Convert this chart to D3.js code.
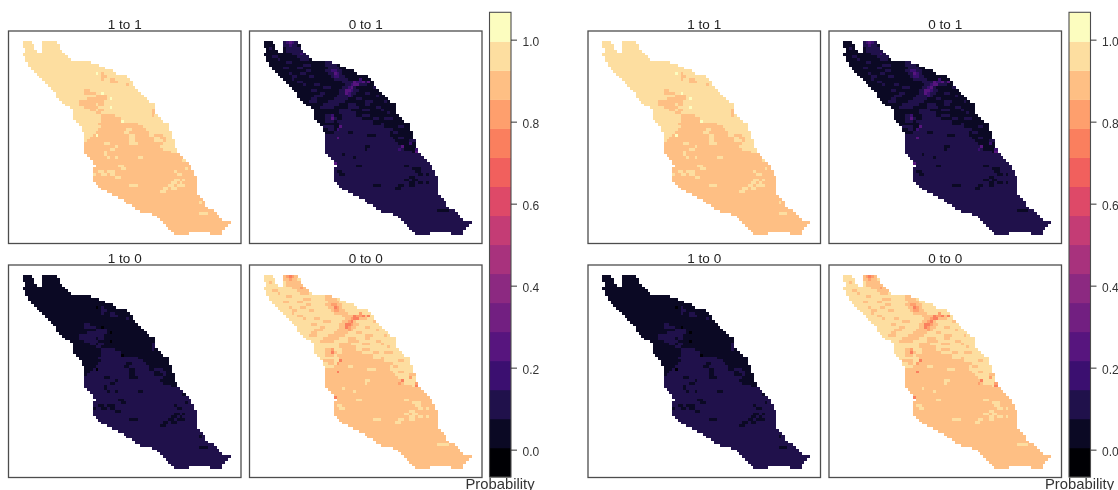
<!DOCTYPE html>
<html>
<head>
<meta charset="utf-8">
<script src="https://cdn.jsdelivr.net/npm/d3@7"></script>
<style>
  html, body { margin: 0; padding: 0; background: #fff; overflow: hidden; }
  svg { display: block; filter: blur(0.35px); font-family: "Liberation Sans", Arial, sans-serif; }
</style>
</head>
<body>
<svg width="1118" height="490"></svg>
<script>
var panelTitles = ['1 to 1', '0 to 1', '1 to 0', '0 to 0'];
var northValues = [0.96, 0.04, 0.04, 0.96];
var southValues = [0.90, 0.10, 0.10, 0.90];
var midValues = [1.0, 0.18, 0.0, 0.82];
var hotValues = [1.0, 0.25, 0.0, 0.74];
var colorTicks = [0, 0.2, 0.4, 0.6, 0.8, 1.0];

// outline of the raster, one entry per row (grid columns)
var rowLeft = [0,0,1,1,0,1,1,2,2,3,4,5,6,7,8,9,10,11,12,12,13,14,15,17,18,18,18,18,19,20,21,21,22,22,22,22,22,22,22,22,23,24,25,25,26,25,25,25,25,25,26,27,28,30,32,34,36,37,39,40,42,46,48,49,50,51,52,53,54];
var rowRight = [12,13,13,14,15,16,17,24,27,29,32,33,37,38,39,39,40,41,42,43,44,45,47,47,47,47,48,49,50,52,52,52,53,53,53,54,54,54,55,55,56,57,58,59,60,60,61,61,62,62,62,62,62,62,62,63,64,65,65,66,68,69,70,71,74,73,72,71,71];
var maskGaps = [[0,3,7],[1,4,7],[2,4,7],[3,5,7],[68,59,67]];

// rows below this one are all in the southern zone
var southFullRow = 40;
var southRuns = [[26,28,33],[27,28,35],[28,28,36],[29,27,39],[30,28,43],[31,27,44],[32,26,45],[33,25,45],[34,24,46],[35,23,47],[36,22,48],[37,22,49],[38,22,50],[39,22,53]];

// "1 to" panels
var darkRuns1 = [[7,24,25],[11,28,29],[12,28,30],[13,28,29],[13,31,33],[14,31,34],[15,37,38],[17,22,24],[18,22,26],[19,26,30],[20,23,30],[21,20,29],[22,20,26],[22,27,29],[23,22,27],[24,24,26],[24,27,29],[25,26,28],[24,46,47],[25,46,47],[26,46,47],[33,47,50],[34,46,47],[34,49,51],[35,46,47],[35,50,51],[36,47,50],[29,39,41]];
var lightRuns1 = [[31,37,39],[32,36,38],[33,38,40],[34,38,40],[35,38,40],[36,38,41],[37,33,34],[36,29,31],[38,31,33],[39,29,30],[40,29,30],[41,30,31],[41,33,34],[44,34,36],[46,27,29],[46,30,33],[47,28,30],[47,31,33],[48,33,35],[47,25,26],[50,53,55],[50,56,57],[49,54,56],[49,57,58],[47,55,57],[46,54,55],[51,52,54],[51,55,58],[52,50,52],[52,53,55],[53,49,51],[51,38,41],[57,63,64],[61,63,66],[45,35,37],[41,41,43],[42,57,58],[45,58,59]];
var topRuns1 = [[11,26,27],[18,28,29],[20,31,32],[23,31,32],[28,35,36],[33,26,27]];

// "0 to" panels
var darkRuns0 = [[0,7,12],[1,7,12],[2,8,13],[3,8,14],[4,10,15],[5,12,16],[6,13,16],[7,22,25],[8,22,26],[9,23,27],[10,22,28],[11,23,28],[12,24,29],[13,25,30],[14,28,38],[15,29,37],[16,28,33],[17,27,34],[18,27,33],[19,26,32],[20,25,30],[21,23,29],[22,21,27],[23,20,25],[9,12,14],[10,15,17],[12,16,18],[15,18,20],[17,17,19],[18,20,22],[20,17,19],[13,10,11],[6,5,6],[11,9,10],[20,33,35],[22,36,38],[24,42,43],[19,40,41],[21,43,44],[25,44,45],[28,26,28],[30,23,25],[32,25,27],[27,39,41],[29,42,43],[31,38,39],[33,43,44],[34,48,50],[35,52,54],[30,48,50],[26,30,33],[24,27,31],[25,27,33],[26,22,25],[27,22,26],[28,22,25],[30,21,23],[31,23,25],[33,22,25],[34,22,24],[35,22,23],[2,2,3],[5,3,5],[7,8,10],[8,14,17],[9,7,9],[11,13,15],[12,10,12],[14,12,14],[15,14,15],[16,21,24],[19,18,21],[21,16,19],[23,30,34],[24,35,38],[22,30,33],[21,36,39],[23,40,42],[26,35,38],[27,43,46],[28,36,39],[30,40,43],[31,44,46],[29,34,36],[32,46,48],[18,36,38],[16,39,40]];
var lightRuns0 = [[47,27,29],[46,26,28],[44,33,35],[41,32,33],[40,28,29],[51,39,42],[48,52,54],[47,55,57],[47,58,59],[46,54,56],[49,50,52],[49,53,55],[50,52,54],[50,55,57],[50,58,59],[51,48,50],[51,52,54],[52,47,49],[44,50,52],[60,62,66],[45,53,56],[38,36,37],[37,36,38],[33,37,40],[32,30,32]];
var midRuns0 = [[10,24,26],[11,25,27],[12,25,27],[14,33,36],[15,31,33],[16,30,32],[17,30,32],[0,8,11],[1,9,10],[18,29,31],[19,30,31],[4,13,14],[26,24,25],[31,26,27],[38,48,49],[36,52,53],[37,54,55],[38,54,55],[13,34,35]];
var hotRuns0 = [[14,32,33],[14,35,36],[15,32,34],[16,31,32],[17,29,31],[18,29,30],[0,9,10],[11,25,26],[14,37,38],[27,24,25],[30,27,28],[34,26,27],[37,49,50],[43,25,26],[39,54,55]];

var svg = d3.select('svg');

// layout of the two figures
var figureLeft = [0, 579.5];
var panelX = [8.5, 249.5, 8.5, 249.5];
var panelY = [31, 31, 265, 265];
var panelW = 232.5;
var panelH = 212.5;

var colorBreaks = d3.range(17).map(function(i) { return -0.0667 + i * 0.0708; });
var colors = d3.quantize(d3.interpolateMagma, 16);
var colorScale = d3.scaleThreshold().domain(colorBreaks.slice(1, 16)).range(colors);
var keyY = d3.scaleLinear().domain([-0.0667, 1.0667]).range([477, 12.3]);

var colScale = d3.scaleLinear().domain([-5.07, 77.96]).range([0, panelW]);
var rowScale = d3.scaleLinear().domain([-3.7, 72.2]).range([0, panelH]);
var cellW = colScale(1) - colScale(0);
var cellH = rowScale(1) - rowScale(0);

function paint(grid, runs, value) {
  runs.forEach(function(r) {
    for (var c = r[1]; c < r[2]; c++) {
      var k = r[0] + '_' + c;
      if (k in grid) grid[k] = value;
    }
  });
}

function buildCells(i) {
  var grid = {};
  var r, c;
  for (r = 0; r < rowLeft.length; r++) {
    for (c = rowLeft[r]; c < rowRight[r]; c++) {
      grid[r + '_' + c] = r >= southFullRow ? southValues[i] : northValues[i];
    }
  }
  maskGaps.forEach(function(g) {
    for (c = g[1]; c < g[2]; c++) delete grid[g[0] + '_' + c];
  });
  paint(grid, southRuns, southValues[i]);
  if (i == 0 || i == 2) {
    paint(grid, darkRuns1, southValues[i]);
    paint(grid, lightRuns1, northValues[i]);
    paint(grid, topRuns1, midValues[i]);
  } else {
    paint(grid, darkRuns0, southValues[i]);
    paint(grid, lightRuns0, northValues[i]);
    paint(grid, midRuns0, midValues[i]);
    paint(grid, hotRuns0, hotValues[i]);
  }
  return Object.keys(grid).map(function(k) {
    var p = k.split('_');
    return { row: +p[0], col: +p[1], value: grid[k] };
  });
}

figureLeft.forEach(function(fx) {
  var fig = svg.append('g').attr('transform', 'translate(' + fx + ',0)');

  panelTitles.forEach(function(title, i) {
    var g = fig.append('g').attr('transform', 'translate(' + panelX[i] + ',' + panelY[i] + ')');

    g.append('g')
      .attr('shape-rendering', 'crispEdges')
      .selectAll('rect')
      .data(buildCells(i))
      .join('rect')
      .attr('x', function(d) { return colScale(d.col); })
      .attr('y', function(d) { return rowScale(d.row); })
      .attr('width', cellW + 0.6)
      .attr('height', cellH + 0.6)
      .attr('fill', function(d) { return colorScale(d.value); });

    g.append('rect')
      .attr('width', panelW)
      .attr('height', panelH)
      .attr('fill', 'none')
      .attr('stroke', '#4d4d4d')
      .attr('stroke-width', 1.3);

    g.append('text')
      .attr('x', panelW / 2)
      .attr('y', -2.5)
      .attr('text-anchor', 'middle')
      .attr('font-size', 13.5)
      .attr('fill', '#222')
      .text(title);
  });

  // colorkey
  var key = fig.append('g').attr('transform', 'translate(489.5,0)');
  key.selectAll('rect')
    .data(colors)
    .join('rect')
    .attr('x', 0)
    .attr('width', 21.5)
    .attr('y', function(d, i) { return keyY(colorBreaks[i + 1]); })
    .attr('height', function(d, i) { return keyY(colorBreaks[i]) - keyY(colorBreaks[i + 1]) + 0.3; })
    .attr('fill', function(d) { return d; });
  key.append('rect')
    .attr('width', 21.5)
    .attr('y', keyY(1.0667))
    .attr('height', keyY(-0.0667) - keyY(1.0667))
    .attr('fill', 'none')
    .attr('stroke', '#4d4d4d')
    .attr('stroke-width', 1.1);

  var axis = key.append('g')
    .attr('transform', 'translate(21.5,0)')
    .call(d3.axisRight(keyY).tickValues(colorTicks).tickFormat(d3.format('.1f')).tickSize(6).tickPadding(5.5));
  axis.select('.domain').remove();
  axis.selectAll('line').attr('stroke', '#333');
  axis.selectAll('text').attr('font-size', 12).attr('dy', '0.5em').attr('font-family', 'inherit').attr('fill', '#333');

  fig.append('text')
    .attr('x', 465.5)
    .attr('y', 488.5)
    .attr('font-size', 14.8)
    .attr('fill', '#333')
    .text('Probability');
});
</script>
</body>
</html>
